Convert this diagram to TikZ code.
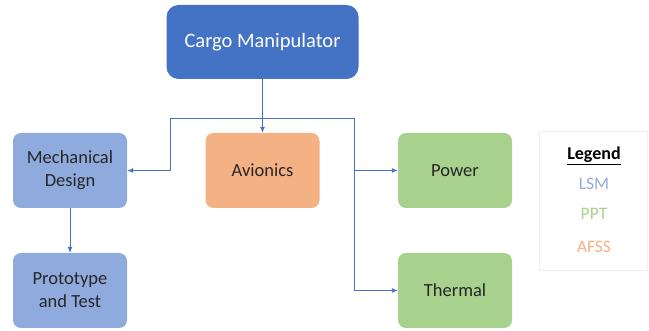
\documentclass[tikz,border=0pt]{standalone}
\usepackage{fontspec}
\setmainfont{Carlito}
\usetikzlibrary{arrows.meta}

\begin{document}
\begin{tikzpicture}[x=1pt,y=-1pt,
  block/.style={rounded corners=8pt,minimum width=114pt,minimum height=75pt,align=center,
    font=\fontsize{18.5}{23}\selectfont,text=black!85},
  link/.style={draw=cargo,line width=0.9pt,-{Latex[length=6pt,width=5pt]}},
  keytext/.style={font=\fontsize{17.5}{20}\selectfont}]
\definecolor{cargo}{HTML}{4472C4}
\definecolor{lsm}{HTML}{8FAADC}
\definecolor{ppt}{HTML}{A9D18E}
\definecolor{afss}{HTML}{F4B183}
\useasboundingbox (0,0) rectangle (649,331);
\node [block,fill=cargo,text=white,minimum width=192pt,minimum height=74pt,rounded corners=12pt,
  font=\fontsize{20.5}{24}\selectfont] (cargo) at (262.5,42) {Cargo Manipulator};
\node [block,fill=lsm] (mech) at (70,170.5) {Mechanical\\Design};
\node [block,fill=lsm] (proto) at (70,290.5) {Prototype\\and Test};
\node [block,fill=afss] (avio) at (262.5,170.5) {Avionics};
\node [block,fill=ppt] (power) at (455,170.5) {Power};
\node [block,fill=ppt] (thermal) at (455,290.5) {Thermal};
% connectors
\coordinate (bl) at (170,118);
\coordinate (br) at (354,118);
\draw [link] (cargo) -- (avio);
\draw [link] (br) -- (bl) -- (bl |- mech) -- (mech);
\draw [link] (bl) -- (br) -- (br |- thermal) -- (thermal);
\draw [link] (br |- power) -- (power);
\draw [link] (mech) -- (proto);
% legend
\node [draw=black!6,minimum width=108pt,minimum height=139pt] (legend) at (593,200.5) {};
\node [keytext,font=\fontsize{18}{20}\selectfont\bfseries] (key) at (594,156) {\underline{Legend}};
  \foreach \crlr/\ypos in {lsm/184,ppt/214,afss/247}
  {  \node [keytext,text=\crlr] (\crlr key) at (594,\ypos) {\MakeUppercase{\crlr}};}
\end{tikzpicture}
\end{document}
